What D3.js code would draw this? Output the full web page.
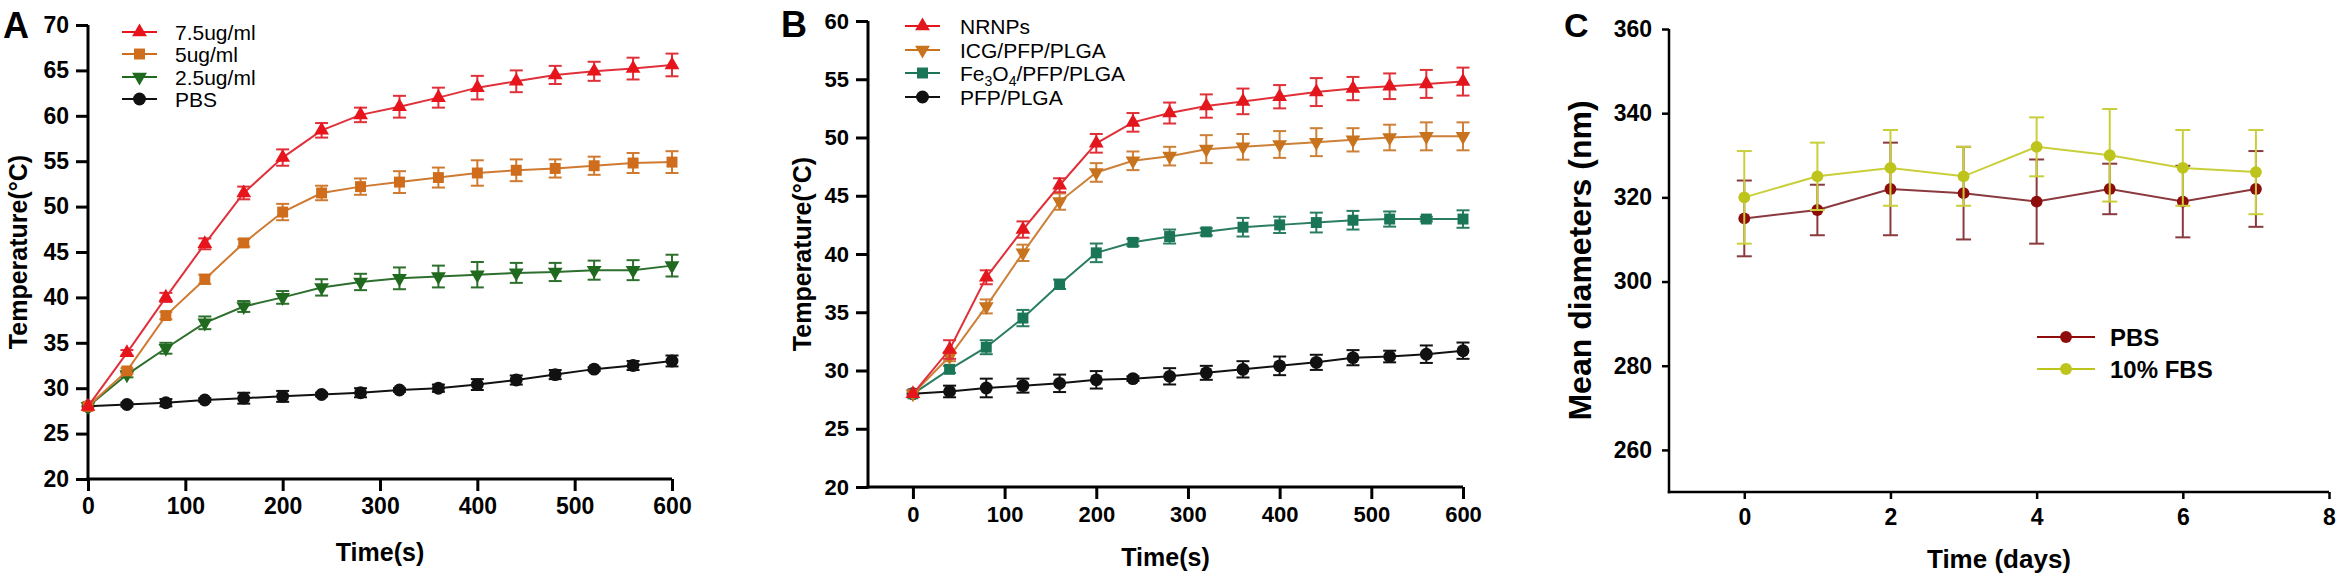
<!DOCTYPE html>
<meta charset="utf-8">
<script src="https://d3js.org/d3.v7.min.js"></script>
<style>
  body { margin: 0; background: #fff; }
  text { font-family: "Liberation Sans", Arial, sans-serif; }
</style>
<div id="chart"></div>
<script>
var width = 2349
var height = 586

// ---- panel A : concentrations ----
var timeA = [0, 40, 80, 120, 160, 200, 240, 280, 320, 360, 400, 440, 480, 520, 560, 600]
var a75 = [28, 33.9, 40, 45.9, 51.5, 55.4, 58.4, 60.1, 61, 62, 63.1, 63.8, 64.5, 64.9, 65.2, 65.6]
var a75Err = [0, 0.3, 0.5, 0.6, 0.7, 0.9, 0.8, 0.8, 1.2, 1.1, 1.3, 1.2, 1.0, 1.05, 1.2, 1.25]
var a5 = [28, 31.9, 38, 42, 46, 49.4, 51.5, 52.2, 52.7, 53.2, 53.7, 54.0, 54.2, 54.5, 54.8, 54.9]
var a5Err = [0, 0.3, 0.4, 0.5, 0.4, 0.9, 0.8, 0.9, 1.2, 1.1, 1.4, 1.2, 1.0, 1.0, 1.1, 1.2]
var a25 = [28, 31.5, 34.4, 37.2, 39.0, 40.0, 41.1, 41.7, 42.1, 42.3, 42.5, 42.7, 42.8, 43.0, 43.0, 43.5]
var a25Err = [0, 0.3, 0.6, 0.7, 0.6, 0.7, 0.9, 0.9, 1.2, 1.2, 1.4, 1.1, 1.0, 1.05, 1.1, 1.2]
var aPbs = [28, 28.2, 28.4, 28.7, 28.9, 29.1, 29.3, 29.5, 29.8, 30.0, 30.4, 30.9, 31.5, 32.1, 32.5, 33.0]
var aPbsErr = [0, 0.2, 0.4, 0.2, 0.6, 0.6, 0.2, 0.5, 0.2, 0.4, 0.6, 0.5, 0.5, 0.2, 0.5, 0.6]
var labelsA = ["7.5ug/ml", "5ug/ml", "2.5ug/ml", "PBS"]
var ticksAy = [20, 25, 30, 35, 40, 45, 50, 55, 60, 65, 70]
var ticksAx = [0, 100, 200, 300, 400, 500, 600]

// ---- panel B : formulations ----
var timeB = [0, 40, 80, 120, 160, 200, 240, 280, 320, 360, 400, 440, 480, 520, 560, 600]
var bNr = [28, 31.8, 38.0, 42.1, 45.9, 49.5, 51.3, 52.1, 52.7, 53.1, 53.5, 53.9, 54.2, 54.4, 54.6, 54.8]
var bNrErr = [0, 0.8, 0.6, 0.7, 0.6, 0.8, 0.8, 0.9, 1.0, 1.1, 1.0, 1.2, 1.0, 1.1, 1.2, 1.2]
var bIcg = [28, 31.2, 35.5, 40.1, 44.5, 47.0, 48.0, 48.4, 49.0, 49.2, 49.4, 49.6, 49.8, 50.0, 50.1, 50.1]
var bIcgErr = [0, 0.4, 0.6, 0.7, 0.7, 0.8, 0.8, 0.8, 1.2, 1.1, 1.15, 1.2, 1.0, 1.1, 1.2, 1.2]
var bFe = [28, 30.1, 32.0, 34.5, 37.4, 40.1, 41.0, 41.5, 41.9, 42.3, 42.5, 42.7, 42.9, 43.0, 43.0, 43.0]
var bFeErr = [0, 0.3, 0.6, 0.7, 0.4, 0.8, 0.3, 0.6, 0.3, 0.8, 0.7, 0.85, 0.8, 0.65, 0.2, 0.75]
var bPfp = [28, 28.2, 28.5, 28.7, 28.9, 29.2, 29.3, 29.5, 29.8, 30.1, 30.4, 30.7, 31.1, 31.2, 31.4, 31.7]
var bPfpErr = [0, 0.5, 0.8, 0.6, 0.75, 0.75, 0.2, 0.7, 0.6, 0.7, 0.8, 0.65, 0.65, 0.5, 0.75, 0.7]
var ticksBy = [20, 25, 30, 35, 40, 45, 50, 55, 60]
var ticksBx = [0, 100, 200, 300, 400, 500, 600]

// ---- panel C : stability ----
var days = [0, 1, 2, 3, 4, 5, 6, 7]
var cPbs = [315, 317, 322, 321, 319, 322, 319, 322]
var cPbsErr = [9, 6, 11, 11, 10, 6, 8.5, 9]
var cFbs = [320, 325, 327, 325, 332, 330, 327, 326]
var cFbsErr = [11, 8, 9, 7, 7, 11, 9, 10]
var labelsC = ["PBS", "10% FBS"]
var ticksCy = [260, 280, 300, 320, 340, 360]
var ticksCx = [0, 2, 4, 6, 8]

var svg = d3.select("#chart")
  .append("svg")
    .attr("width", width)
    .attr("height", height)
    .style("background", "#fff")

var tri = d3.symbol().type(d3.symbolTriangle).size(95)
var sq = d3.symbol().type(d3.symbolSquare).size(120)
var circ = d3.symbol().type(d3.symbolCircle).size(130)

function drawAxes(o) {
  var g = svg.append("g")
  var xa = g.append("g")
    .attr("transform", "translate(0," + o.y.range()[0] + ")")
    .call(d3.axisBottom(o.x).tickValues(o.xTicks).tickSize(o.tick).tickSizeOuter(0).tickPadding(o.pad))
  var ya = g.append("g")
    .attr("transform", "translate(" + o.x.range()[0] + ",0)")
    .call(d3.axisLeft(o.y).tickValues(o.yTicks).tickSize(o.tick).tickSizeOuter(0).tickPadding(o.pad))
  ;[xa, ya].forEach(function(a) {
    a.selectAll("path, line").attr("stroke", "#000").attr("stroke-width", o.sw)
    a.selectAll("text")
      .attr("fill", "#000")
      .style("font-size", o.fs + "px")
      .style("font-weight", "bold")
  })
  // stretch domain lines so they meet at the corner
  xa.select(".domain").attr("d", "M" + (o.x.range()[0] - o.sw / 2) + ",0H" + o.x.range()[1])
  ya.select(".domain").attr("d", "M0," + (o.y.range()[0] + o.sw / 2) + "V" + o.y.range()[1])

  g.append("text")
    .attr("x", (o.x.range()[0] + o.x.range()[1]) / 2)
    .attr("y", o.xTitleY)
    .attr("text-anchor", "middle")
    .style("font-size", o.titleFs + "px")
    .style("font-weight", "bold")
    .text(o.xTitle)
  g.append("text")
    .attr("transform", "translate(" + o.yTitleX + "," + (o.y.range()[0] + o.y.range()[1]) / 2 + ") rotate(-90)")
    .attr("text-anchor", "middle")
    .style("font-size", o.yTitleFs + "px")
    .style("font-weight", "bold")
    .text(o.yTitle)
}

function drawSeries(o, xs, ys, errs, color, sym, rot, lineColor, cap) {
  var g = svg.append("g")
  var line = d3.line()
    .x(function(d, i) { return o.x(xs[i]) })
    .y(function(d) { return o.y(d) })
  // error bars
  ys.forEach(function(v, i) {
    if (!errs[i]) return
    var cx = o.x(xs[i]), y1 = o.y(v + errs[i]), y2 = o.y(v - errs[i])
    g.append("line").attr("x1", cx).attr("x2", cx).attr("y1", y1).attr("y2", y2)
      .attr("stroke", lineColor).attr("stroke-width", 2)
    g.append("line").attr("x1", cx - cap).attr("x2", cx + cap).attr("y1", y1).attr("y2", y1)
      .attr("stroke", lineColor).attr("stroke-width", 2)
    g.append("line").attr("x1", cx - cap).attr("x2", cx + cap).attr("y1", y2).attr("y2", y2)
      .attr("stroke", lineColor).attr("stroke-width", 2)
  })
  g.append("path")
    .attr("d", line(ys))
    .attr("fill", "none")
    .attr("stroke", lineColor)
    .attr("stroke-width", 2)
  g.selectAll("path.pt")
    .data(ys)
    .enter().append("path")
      .attr("class", "pt")
      .attr("d", sym)
      .attr("transform", function(d, i) {
        return "translate(" + o.x(xs[i]) + "," + o.y(d) + ")" + (rot ? " rotate(180)" : "")
      })
      .attr("fill", color)
}

function legendRow(x1, x2, y, color, sym, rot, label, fs, tx, bold) {
  svg.append("line").attr("x1", x1).attr("x2", x2).attr("y1", y).attr("y2", y)
    .attr("stroke", color).attr("stroke-width", 2)
  svg.append("path").attr("d", sym)
    .attr("transform", "translate(" + (x1 + x2) / 2 + "," + y + ")" + (rot ? " rotate(180)" : ""))
    .attr("fill", color)
  var t = svg.append("text").attr("x", tx).attr("y", y + fs * 0.36)
    .style("font-size", fs + "px")
    .style("font-weight", bold ? "bold" : "normal")
  if (typeof label === "string") t.text(label)
  else label(t)
}

function panelLetter(ch, x, y, fs) {
  svg.append("text").attr("x", x).attr("y", y)
    .style("font-size", fs + "px").style("font-weight", "bold").text(ch)
}

// ================= A =================
var pA = {
  x: d3.scaleLinear().domain([0, 600]).range([88, 672]),
  y: d3.scaleLinear().domain([20, 70]).range([479, 25]),
  xTicks: ticksAx, yTicks: ticksAy, tick: 12, pad: 7, sw: 3, fs: 23,
  xTitle: "Time(s)", xTitleY: 561, titleFs: 25,
  yTitle: "Temperature(\u00b0C)", yTitleX: 27, yTitleFs: 25
}
drawAxes(pA)
drawSeries(pA, timeA, aPbs, aPbsErr, "#111", circ, false, "#111", 6.5)
drawSeries(pA, timeA, a25, a25Err, "#1f6a1f", tri, true, "#2d6f2d", 6.5)
drawSeries(pA, timeA, a5, a5Err, "#cf6d1c", sq, false, "#cf7a30", 6.5)
drawSeries(pA, timeA, a75, a75Err, "#e8141c", tri, false, "#e0303a", 6.5)
var colA = ["#e8141c", "#cf6d1c", "#1f6a1f", "#111"]
var symA = [tri, sq, tri, circ]
var rotA = [false, false, true, false]
var rowA = [32, 54, 77, 99]
labelsA.forEach(function(l, i) {
  legendRow(122, 157, rowA[i], colA[i], symA[i], rotA[i], l, 21, 175, false)
})
panelLetter("A", 3, 38, 36)

// ================= B =================
var pB = {
  x: d3.scaleLinear().domain([-49, 600]).range([868, 1463]),
  y: d3.scaleLinear().domain([20, 60]).range([487, 21]),
  xTicks: ticksBx, yTicks: ticksBy, tick: 12, pad: 7, sw: 3, fs: 22,
  xTitle: "Time(s)", xTitleY: 566, titleFs: 25,
  yTitle: "Temperature(\u00b0C)", yTitleX: 811, yTitleFs: 25
}
drawAxes(pB)
drawSeries(pB, timeB, bPfp, bPfpErr, "#111", circ, false, "#111", 6.5)
drawSeries(pB, timeB, bFe, bFeErr, "#1a7656", sq, false, "#2a7d60", 6.5)
drawSeries(pB, timeB, bIcg, bIcgErr, "#c8731e", tri, true, "#cc8038", 6.5)
drawSeries(pB, timeB, bNr, bNrErr, "#e4161d", tri, false, "#e03038", 6.5)
var colB = ["#e4161d", "#c8731e", "#1a7656", "#111"]
var symB = [tri, tri, sq, circ]
var rotB = [false, true, false, false]
var rowB = [26, 50, 73, 97]
var labelsB = [
  "NRNPs", "ICG/PFP/PLGA",
  function(t) {
    t.append("tspan").text("Fe")
    t.append("tspan").attr("dy", 5).style("font-size", "14px").text("3")
    t.append("tspan").attr("dy", -5).text("O")
    t.append("tspan").attr("dy", 5).style("font-size", "14px").text("4")
    t.append("tspan").attr("dy", -5).text("/PFP/PLGA")
  },
  "PFP/PLGA"
]
labelsB.forEach(function(l, i) {
  legendRow(905, 940, rowB[i], colB[i], symB[i], rotB[i], l, 21, 960, false)
})
panelLetter("B", 781, 37, 36)

// ================= C =================
var pC = {
  x: d3.scaleLinear().domain([-1.03, 8]).range([1669, 2329]),
  y: d3.scaleLinear().domain([250, 360]).range([492, 29]),
  xTicks: ticksCx, yTicks: ticksCy, tick: 7, pad: 10, sw: 2.5, fs: 23,
  xTitle: "Time (days)", xTitleY: 568, titleFs: 26,
  yTitle: "Mean diameters (nm)", yTitleX: 1591, yTitleFs: 32
}
drawAxes(pC)
var circC = d3.symbol().type(d3.symbolCircle).size(110)
drawSeries(pC, days, cPbs, cPbsErr, "#8e0c0c", circC, false, "#8a3a3e", 7.5)
drawSeries(pC, days, cFbs, cFbsErr, "#bdc41c", circC, false, "#c9cf3a", 7.5)
var colC = ["#8e0c0c", "#bdc41c"]
var rowC = [337, 369]
labelsC.forEach(function(l, i) {
  legendRow(2037, 2095, rowC[i], colC[i], circC, false, l, 24, 2110, true)
})
panelLetter("C", 1564, 37, 34)
</script>
